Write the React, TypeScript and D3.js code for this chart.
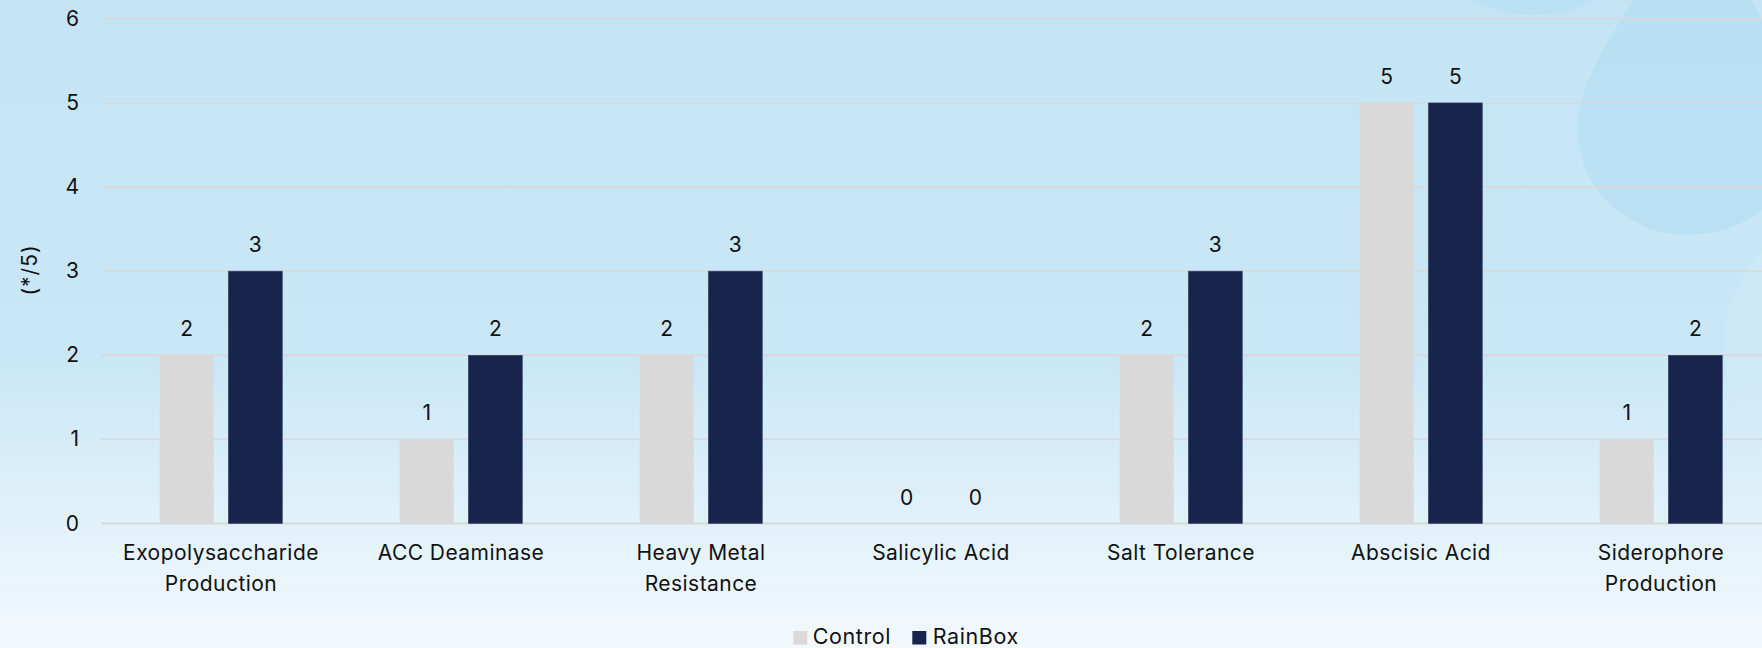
import React from "react";
import * as d3 from "d3";

// Trait scores (out of 5) for each tested property
const categories = [
  "Exopolysaccharide Production",
  "ACC Deaminase",
  "Heavy Metal Resistance",
  "Salicylic Acid",
  "Salt Tolerance",
  "Abscisic Acid",
  "Siderophore Production",
];
// Wrapped label lines per category
const categoryLines = [
  ["Exopolysaccharide", "Production"],
  ["ACC Deaminase"],
  ["Heavy Metal", "Resistance"],
  ["Salicylic Acid"],
  ["Salt Tolerance"],
  ["Abscisic Acid"],
  ["Siderophore", "Production"],
];
const seriesNames = ["Control", "RainBox"];
const controlValues = [2, 1, 2, 0, 2, 5, 1];
const rainBoxValues = [3, 2, 3, 0, 3, 5, 2];
const yTicks = [0, 1, 2, 3, 4, 5, 6];
const yTitle = "(*/5)";

const W = 1762;
const H = 648;
const FONT = "Inter, 'Open Sans', 'Liberation Sans', sans-serif";
const COLORS = ["#D9D9D9", "#17244C"];
const FS = 21;
const LS = 0.45;

export default function App() {
  const x = d3.scaleBand<string>().domain(categories).range([101, 1781]).padding(0);
  const y = d3.scaleLinear().domain([0, 6]).range([523.5, 18.8]);
  const bw = x.bandwidth();
  const barW = bw * 0.225;
  const gap = bw * 0.061;
  const sub = d3
    .scaleOrdinal<string, number>()
    .domain(seriesNames)
    .range([-(gap / 2 + barW), gap / 2]);
  const seriesValues = [controlValues, rainBoxValues];

  return (
    <svg
      width={W}
      height={H}
      style={{ position: "absolute", left: 0, top: 0, display: "block" }}
      fontFamily={FONT}
    >
      <defs>
        <linearGradient id="bgGrad" x1="0" y1="0" x2="0" y2="1">
          <stop offset="0%" stopColor="#C4E4F5" />
          <stop offset="55%" stopColor="#C9E7F6" />
          <stop offset="100%" stopColor="#F3F9FD" />
        </linearGradient>
      </defs>
      <rect x={0} y={0} width={W} height={H} fill="url(#bgGrad)" />
      {/* decorative shapes */}
      <circle cx={1533} cy={-120} r={135} fill="#AEDAF1" opacity={0.35} />
      <path
        d="M 1710,-110 C 1680,-50 1578,50 1578,130 C 1578,190 1630,235 1688,235 C 1750,235 1800,190 1800,130 C 1800,70 1720,-40 1710,-110 Z"
        fill="#AEDAF1"
        opacity={0.45}
      />
      <circle cx={1862} cy={345} r={138} fill="#D2EBF8" opacity={0.5} />

      {/* gridlines */}
      {yTicks.map((t) => (
        <line
          key={t}
          x1={101}
          x2={1781}
          y1={y(t)}
          y2={y(t)}
          stroke="#D9D9D9"
          strokeWidth={1.9}
        />
      ))}
      {/* y tick labels */}
      {yTicks.map((t) => (
        <text
          key={"yt" + t}
          x={79}
          y={y(t) + 7}
          textAnchor="end"
          fontSize={FS}
          fill="#111"
        >
          {t}
        </text>
      ))}
      <text
        transform={`translate(37,270) rotate(-90)`}
        textAnchor="middle"
        fontSize={FS}
        letterSpacing={1}
        fill="#111"
      >
        {yTitle}
      </text>

      {/* bars and value labels */}
      {seriesNames.map((s, si) =>
        categories.map((c, ci) => {
          const v = seriesValues[si][ci];
          const bx = (x(c) as number) + bw / 2 + sub(s);
          return (
            <g key={s + c}>
              {v > 0 && (
                <rect
                  x={bx}
                  y={y(v)}
                  width={barW}
                  height={y(0) - y(v)}
                  fill={COLORS[si]}
                  stroke={si === 1 ? "#3A4870" : "none"}
                  strokeWidth={0.6}
                />
              )}
              <text
                x={bx + barW / 2}
                y={y(v) - 19}
                textAnchor="middle"
                fontSize={FS}
                fill="#111"
              >
                {v}
              </text>
            </g>
          );
        })
      )}

      {/* category labels */}
      {categories.map((c, ci) => (
        <text
          key={"cl" + c}
          x={(x(c) as number) + bw / 2}
          y={560}
          textAnchor="middle"
          fontSize={FS}
          letterSpacing={LS}
          fill="#111"
        >
          {categoryLines[ci].map((ln, li) => (
            <tspan key={li} x={(x(c) as number) + bw / 2} dy={li === 0 ? 0 : 31}>
              {ln}
            </tspan>
          ))}
        </text>
      ))}

      {/* legend */}
      <rect x={793.3} y={631} width={14} height={13.5} fill={COLORS[0]} />
      <text x={812.7} y={644.3} fontSize={21.5} letterSpacing={0.6} fill="#111">
        {seriesNames[0]}
      </text>
      <rect x={912.3} y={631} width={14} height={13.5} fill={COLORS[1]} />
      <text x={932.7} y={644.3} fontSize={21.5} letterSpacing={0.6} fill="#111">
        {seriesNames[1]}
      </text>
    </svg>
  );
}
